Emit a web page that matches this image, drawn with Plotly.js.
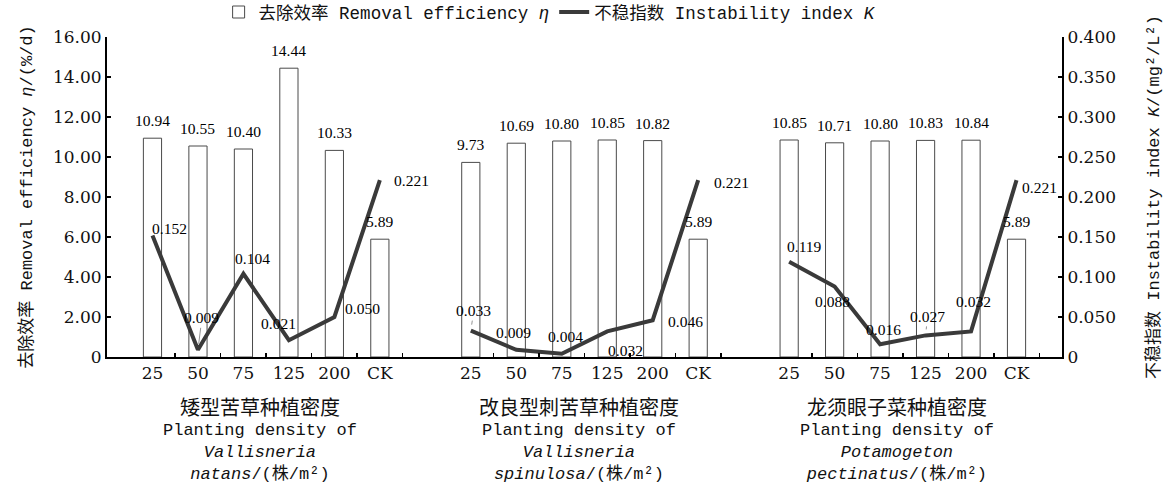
<!DOCTYPE html>
<html>
<head>
<meta charset="utf-8">
<script src="https://cdn.plot.ly/plotly-3.0.1.min.js"></script>
<style>html,body{margin:0;padding:0;background:#fff;}#chart{width:1169px;height:485px;}</style>
</head>
<body>
<div id="chart"></div>
<script>
// ---- data ----
const densities = ['25', '50', '75', '125', '200', 'CK'];
const groupCN = ['矮型苦草种植密度', '改良型刺苦草种植密度', '龙须眼子菜种植密度'];
const groupEN = [
  'Planting density of<br><i>Vallisneria</i><br><i>natans</i>/(株/m²)',
  'Planting density of<br><i>Vallisneria</i><br><i>spinulosa</i>/(株/m²)',
  'Planting density of<br><i>Potamogeton</i><br><i>pectinatus</i>/(株/m²)'
];
const removalNatans     = [10.94, 10.55, 10.40, 14.44, 10.33, 5.89];
const removalSpinulosa  = [9.73, 10.69, 10.80, 10.85, 10.82, 5.89];
const removalPectinatus = [10.85, 10.71, 10.80, 10.83, 10.84, 5.89];
const instabNatans      = [0.152, 0.009, 0.104, 0.021, 0.050, 0.221];
const instabSpinulosa   = [0.033, 0.009, 0.004, 0.032, 0.046, 0.221];
const instabPectinatus  = [0.119, 0.088, 0.016, 0.027, 0.032, 0.221];
const leftTicks  = [0, 2, 4, 6, 8, 10, 12, 14, 16];
const leftTickText  = ['0', '2.00', '4.00', '6.00', '8.00', '10.00', '12.00', '14.00', '16.00'];
const rightTicks = [0, 0.05, 0.1, 0.15, 0.2, 0.25, 0.3, 0.35, 0.4];
const rightTickText = ['0', '0.050', '0.100', '0.150', '0.200', '0.250', '0.300', '0.350', '0.400'];

// ---- label offsets (style only) [dx, dy] px ----
const lineLabelOffsets = [
  [[17,-7],[4,-32],[9,-15],[-10,-17],[28,-9],[32,0]],
  [[3,-20],[-3,-17],[4,-17],[18,19],[33,1],[33,2]],
  [[15,-15],[-2,15],[3,-15],[2,-19],[2,-30],[23,7]]
];
const leaderLines = [[0,1],[1,0],[2,3]];

const removal = [removalNatans, removalSpinulosa, removalPectinatus];
const instab = [instabNatans, instabSpinulosa, instabPectinatus];
const GAP = 7;

const barX = [], barY = [], lineX = [], lineY = [], tickVals = [], tickText = [], minorVals = [];
removal.forEach((arr, g) => {
  arr.forEach((v, i) => {
    const x = g * GAP + i;
    barX.push(x); barY.push(v);
    lineX.push(x); lineY.push(instab[g][i]);
    tickVals.push(x); tickText.push(densities[i]);
    minorVals.push(x + 0.5);
  });
  if (g < removal.length - 1) { lineX.push(g * GAP + 6); lineY.push(null); }
});

const serif = 'Liberation Serif, Times New Roman, serif';
const mono = 'Liberation Mono, Noto Sans CJK SC, monospace';
const tickFont = {family: 'DejaVu Serif, serif', size: 17, color: '#111'};

const traces = [
  {
    type: 'bar', x: barX, y: barY, width: 0.4,
    name: '去除效率 Removal efficiency <i>η</i>',
    marker: {color: '#ffffff', line: {color: '#4a4a4a', width: 1}},
    xaxis: 'x', yaxis: 'y', hoverinfo: 'skip'
  },
  {
    type: 'scatter', mode: 'lines', x: lineX, y: lineY, connectgaps: false,
    name: '不稳指数 Instability index <i>K</i>',
    line: {color: '#3a3a3a', width: 4},
    xaxis: 'x', yaxis: 'y2', hoverinfo: 'skip'
  }
];

const annotations = [];
// bar value labels
barX.forEach((x, k) => {
  annotations.push({
    x: x, y: barY[k], xref: 'x', yref: 'y', text: barY[k].toFixed(2),
    showarrow: false, yanchor: 'bottom', xanchor: 'center', yshift: 7,
    font: {family: serif, size: 15.5, color: '#000'}
  });
});
// line value labels
instab.forEach((arr, g) => {
  arr.forEach((v, i) => {
    const x = g * GAP + i;
    const off = lineLabelOffsets[g][i];
    const leader = leaderLines.some(p => p[0] === g && p[1] === i);
    const a = {
      x: x, y: v, xref: 'x', yref: 'y2', text: v.toFixed(3),
      font: {family: serif, size: 15.5, color: '#000'}
    };
    if (leader) {
      Object.assign(a, {showarrow: true, ax: off[0], ay: off[1], arrowhead: 0,
        arrowwidth: 0.8, arrowcolor: '#777', standoff: 6});
    } else {
      Object.assign(a, {showarrow: false, xanchor: 'center', yanchor: 'middle',
        xshift: off[0], yshift: -off[1]});
    }
    annotations.push(a);
  });
});
// group titles
groupCN.forEach((t, g) => {
  const xc = g * GAP + 2.5;
  annotations.push({
    x: xc, y: -0.156, xref: 'x', yref: 'paper', text: t, showarrow: false,
    xanchor: 'center', yanchor: 'middle', xshift: -6,
    font: {family: 'Noto Sans CJK SC, sans-serif', size: 20, color: '#111'}
  });
  annotations.push({
    x: xc, y: -0.195, xref: 'x', yref: 'paper', text: groupEN[g], showarrow: false,
    xanchor: 'center', yanchor: 'top', xshift: -6, align: 'center',
    font: {family: mono, size: 17, color: '#111'}
  });
});

const layout = {
  width: 1169, height: 485,
  margin: {l: 107, r: 107, t: 37, b: 128, pad: 0},
  paper_bgcolor: '#fff', plot_bgcolor: '#fff',
  showlegend: true,
  legend: {
    orientation: 'h', x: 0.464, xanchor: 'center',
    yref: 'container', y: 0.975, yanchor: 'middle',
    font: {family: mono, size: 17.5, color: '#111'}, bgcolor: 'rgba(0,0,0,0)',
    itemwidth: 30, tracegroupgap: 0
  },
  xaxis: {
    range: [-1, 20], showgrid: false, zeroline: false,
    showline: true, linecolor: '#000', linewidth: 2,
    tickmode: 'array', tickvals: tickVals, ticktext: tickText, ticks: '',
    tickfont: tickFont,
    minor: {tickmode: 'array', tickvals: minorVals, ticks: 'inside', ticklen: 4, tickwidth: 1.5, tickcolor: '#000'}
  },
  yaxis: {
    range: [0, 16], showgrid: false, zeroline: false,
    showline: true, linecolor: '#000', linewidth: 2,
    tickmode: 'array', tickvals: leftTicks, ticktext: leftTickText,
    ticks: 'inside', ticklen: 4, tickwidth: 1.5, tickcolor: '#000',
    tickfont: tickFont,
    title: {text: '去除效率 Removal efficiency <i>η</i>/(%/d)', font: {family: mono, size: 17, color: '#111'}, standoff: 16}
  },
  yaxis2: {
    range: [0, 0.4], overlaying: 'y', side: 'right', showgrid: false, zeroline: false,
    showline: true, linecolor: '#000', linewidth: 2,
    tickmode: 'array', tickvals: rightTicks, ticktext: rightTickText,
    ticks: 'inside', ticklen: 4, tickwidth: 1.5, tickcolor: '#000',
    tickfont: tickFont,
    title: {text: '不稳指数 Instability index <i>K</i>/(mg²/L²)', font: {family: mono, size: 17, color: '#111'}, standoff: 32}
  },
  annotations: annotations
};

Plotly.newPlot('chart', traces, layout, {staticPlot: true, displayModeBar: false});
</script>
</body>
</html>
